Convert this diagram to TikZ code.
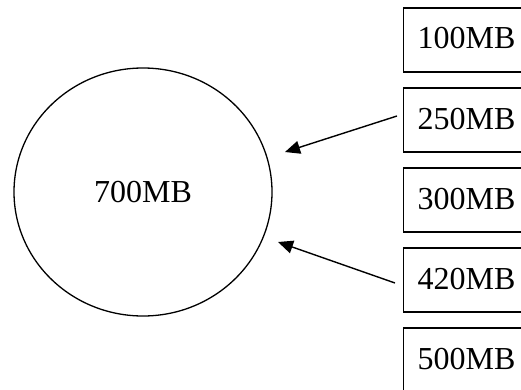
\documentclass[tikz,border=0pt]{standalone}
\usepackage{fontspec}
\setmainfont{Liberation Serif}
\usetikzlibrary{shapes.geometric,arrows.meta}
\tikzset{
  disk/.style={draw, ellipse, line width=1.3pt, minimum width=258pt, minimum height=248pt, inner sep=0pt, font=\fontsize{32}{32}\selectfont},
  sizebox/.style={draw, rectangle, line width=1.4pt, anchor=west, minimum height=64pt, inner xsep=14pt, inner ysep=0pt, text height=21pt, text depth=3pt, font=\fontsize{32}{32}\selectfont},
  arr/.style={line width=1.4pt, -{Triangle[length=15pt,width=13pt]}}
}
\begin{document}
\begin{tikzpicture}[x=1pt,y=1pt]
\useasboundingbox (0,0) rectangle (521,389);
\clip (0,0) rectangle (521,389);
\node[disk] (cd) at (143,197) {700MB};
\node[sizebox] (b1) at (403,349) {100MB};
\node[sizebox] (b2) at (403,269) {250MB};
\node[sizebox] (b3) at (403,189) {300MB};
\node[sizebox] (b4) at (403,109) {420MB};
\node[sizebox] (b5) at (403,29) {500MB};
\coordinate (s1) at ([shift={(-6,4)}]b2.west);
\coordinate (s2) at ([shift={(-8,-3)}]b4.west);
\coordinate (t1) at (285,237);
\coordinate (t2) at (278,147);
\draw[arr] (s1) -- (t1);
\draw[arr] (s2) -- (t2);
\end{tikzpicture}
\end{document}
